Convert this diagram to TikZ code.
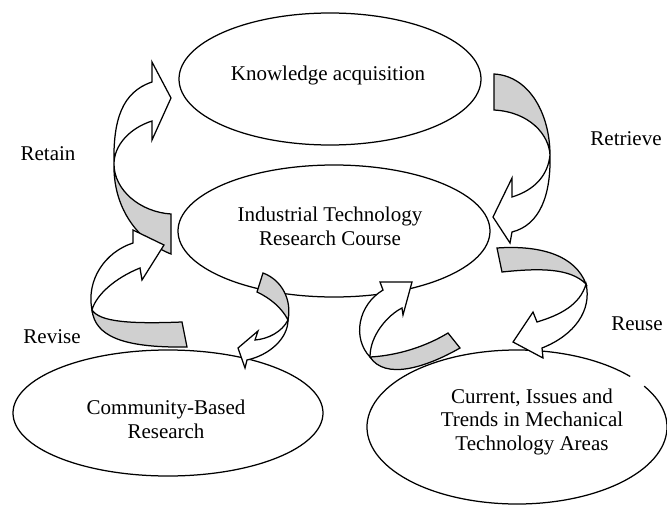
\documentclass[tikz,border=0pt]{standalone}
\usepackage{fontspec}
\setmainfont{Liberation Serif}
\usetikzlibrary{shapes.geometric}
\definecolor{bandgray}{RGB}{208,208,208}
\tikzset{
  outline/.style={draw=black, line width=1.25pt},
  oval/.style={ellipse, outline, fill=white, inner sep=0pt},
  caption/.style={font=\fontsize{21}{23.3}\selectfont, align=center, anchor=base, inner sep=0pt},
  backside/.style={outline, fill=bandgray, line join=miter},
  frontside/.style={outline, fill=white, line join=miter},
}
\begin{document}
\begin{tikzpicture}[x=1pt,y=-1pt]
\useasboundingbox (0,0) rectangle (667,506);
\clip (0,0) rectangle (667,506);

% ovals
\node[oval, minimum width=302pt, minimum height=132pt] (ka) at (330,79) {};
\node[oval, minimum width=312pt, minimum height=132pt] (itrc) at (334,231) {};
\node[oval, minimum width=310pt, minimum height=126pt] (cbr) at (168,413) {};
% the trends oval has a short break in its outline at the upper right
\node[ellipse, fill=white, draw=none, inner sep=0pt,
      minimum width=300pt, minimum height=154pt] (cit) at (517,427) {};
\draw[outline] (cit.center) ++(-32:150 and 77)
  arc[start angle=-32, end angle=319, x radius=150, y radius=77];

% oval texts (base anchor sits on the last line)
\node[caption] (kat) at (328,80) {Knowledge acquisition};
\node[caption] (itrct) at (330,245) {Industrial Technology\\Research Course};
\node[caption] (cbrt) at (166,438) {Community-Based\\Research};
\node[caption] (citt) at (532,450) {Current, Issues and\\Trends in Mechanical\\Technology Areas};

% step labels
\node[caption] (retain) at (48,160) {Retain};
\node[caption] (retrieve) at (626,145) {Retrieve};
\node[caption] (revise) at (52,343) {Revise};
\node[caption] (reuse) at (637,330) {Reuse};

% Retain arrow (left, upward)
\filldraw[backside] (114,164) .. controls (114,190) and (140,212) .. (171,214)
  -- (171,254) .. controls (135,240) and (113,205) .. (114,164) -- cycle;
\filldraw[frontside] (114,164) .. controls (113,120) and (122,92) .. (152,82)
  -- (152,62) -- (171,98) -- (152,140) -- (152,121)
  .. controls (130,128) and (114,145) .. (114,164) -- cycle;

% Revise arrow (lower left, upward)
\filldraw[backside] (92,310) .. controls (100,322) and (130,324) .. (182,322)
  -- (187,347) .. controls (120,348) and (95,335) .. (92,310) -- cycle;
\filldraw[frontside] (92,310) .. controls (86,280) and (105,252) .. (133,243)
  -- (133,230) -- (164,245) -- (142,280) -- (140,268)
  .. controls (115,278) and (96,295) .. (92,310) -- cycle;

% Retrieve arrow (upper right, downward)
\filldraw[backside] (494,74) .. controls (530,76) and (550,115) .. (550,155)
  .. controls (549,135) and (530,112) .. (494,110) -- cycle;
\filldraw[frontside] (550,155) .. controls (551,195) and (540,225) .. (512,232)
  -- (510,243) -- (493,217) -- (512,178) -- (512,197)
  .. controls (535,190) and (548,175) .. (550,155) -- cycle;

% Reuse arrow (right, downward)
\filldraw[backside] (497,248) .. controls (540,245) and (575,255) .. (586,284)
  .. controls (570,268) and (540,268) .. (502,272) -- cycle;
\filldraw[frontside] (586,284) .. controls (592,310) and (575,335) .. (542,348)
  -- (543,358) -- (513,342) -- (533,312) -- (537,322)
  .. controls (560,315) and (580,305) .. (586,284) -- cycle;

% small arrow from the course oval down to community research
\filldraw[backside] (263,273) .. controls (282,280) and (292,300) .. (288,320)
  .. controls (282,308) and (270,298) .. (257,292) -- cycle;
\filldraw[frontside] (288,320) .. controls (288,338) and (270,355) .. (247,360)
  -- (245,368) -- (238,348) -- (258,331) -- (255,340)
  .. controls (268,339) and (282,332) .. (288,320) -- cycle;

% small arrow from mechanical trends up to the course oval
\filldraw[backside] (370,357) .. controls (390,356) and (420,350) .. (448,333)
  -- (460,348) .. controls (425,368) and (385,380) .. (370,357) -- cycle;
\filldraw[frontside] (370,357) .. controls (352,338) and (358,305) .. (383,290)
  -- (380,282) -- (412,282) -- (403,315) -- (402,308)
  .. controls (388,315) and (370,335) .. (370,357) -- cycle;
\end{tikzpicture}
\end{document}
